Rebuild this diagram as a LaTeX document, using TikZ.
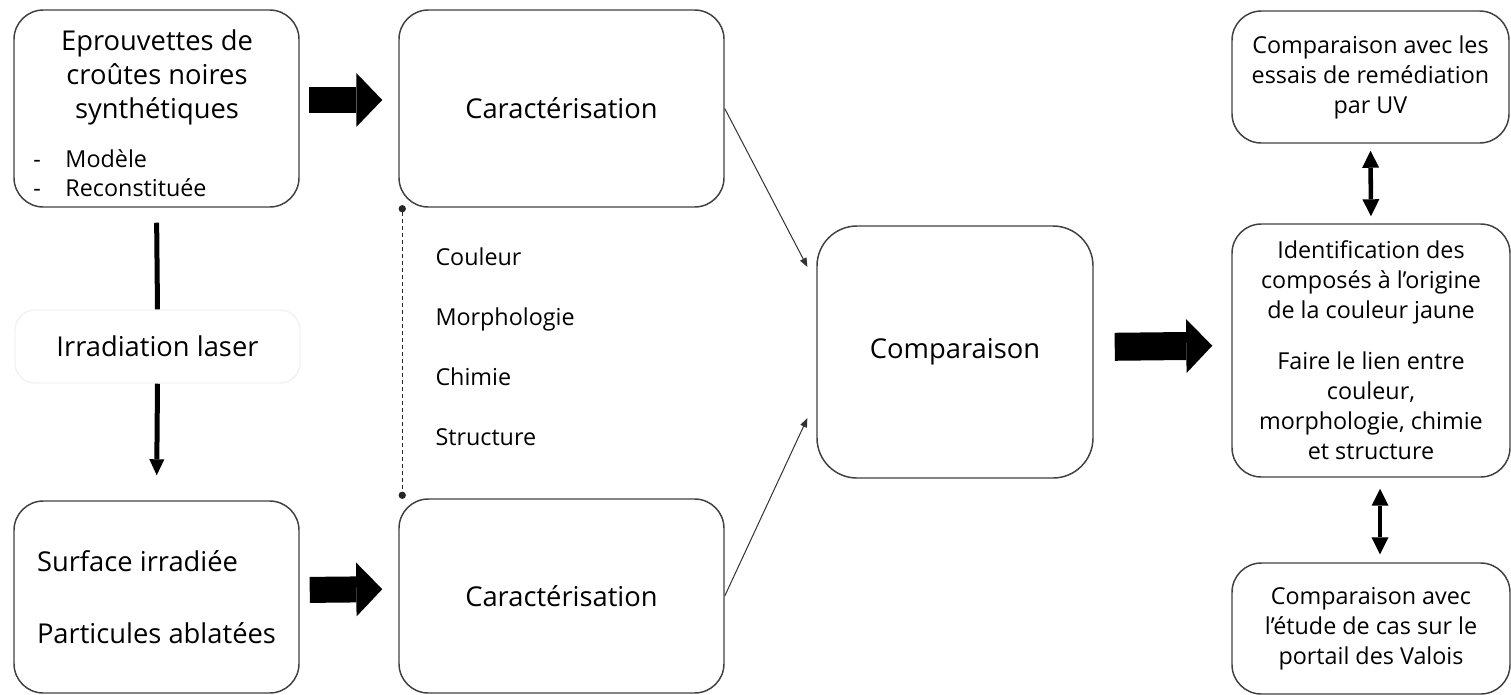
\documentclass[tikz,border=0pt]{standalone}
\usepackage{fontspec}
\setmainfont{Open Sans}
\usetikzlibrary{arrows.meta}

\tikzset{every picture/.style={line width=0.75pt}}
\tikzset{
  box/.style={draw=black!75, line width=1.1pt, rounded corners=22pt, align=center, inner sep=0pt},
  bigfont/.style={font=\fontsize{20.5}{25.5}\selectfont},
  smallfont/.style={font=\fontsize{17.5}{22.5}\selectfont},
  proptext/.style={smallfont, anchor=west, inner sep=0pt, text height=13pt, text depth=4pt},
  blockarrow/.style={line width=19.5pt, -{Triangle[length=19.5pt,width=40.5pt,line width=0pt]}},
  thinarrow/.style={draw=black!80, line width=0.75pt, -{Triangle[length=6.75pt,width=5.25pt]}},
  dblarrow/.style={line width=3.4pt, {Triangle[length=12.75pt,width=12.75pt,line width=0pt]}-{Triangle[length=12.75pt,width=12.75pt,line width=0pt]}}
}

\begin{document}
\begin{tikzpicture}[x=0.75pt,y=0.75pt,yscale=-1,xscale=1]
\useasboundingbox (0,0) rectangle (1511,694);

%Shape: Rounded Rectangle [eprouvettes]
\node [box, minimum width=213.75pt, minimum height=147.75pt] (eprouv) at (156.5,108.5) {};
% Text Node
\node [bigfont, align=center] (eprouvtitle) at (157,77) {Eprouvettes de\\croûtes noires\\synthétiques};
% Text Node
\node [font=\fontsize{17.5}{21.75}\selectfont, align=left, anchor=west, inner sep=0pt] (eprouvlist) at (33,173) {\makebox[24pt][l]{-}Modèle\\\makebox[24pt][l]{-}Reconstituée};

%Shape: Rounded Rectangle [irradiation]
\node [box, draw=black!5, rounded corners=15pt, minimum width=213.75pt, minimum height=54.75pt, bigfont] (irrad) at (157.5,346.5) {Irradiation laser};

%Shape: Rounded Rectangle [surface]
\node [box, minimum width=213.75pt, minimum height=144pt, align=left, font=\fontsize{20.5}{54}\selectfont] (surface) at (156.5,597) {Surface irradiée\\Particules ablatées};

%Shape: Rounded Rectangle [caracterisation]
\node [box, minimum width=243.75pt, minimum height=147.75pt, bigfont] (caracA) at (561.5,108.5) {Caractérisation};
%Shape: Rounded Rectangle [caracterisation]
\node [box, minimum width=243.75pt, minimum height=145.5pt, bigfont] (caracB) at (561.5,596) {Caractérisation};

% Text Node
\node [proptext] (couleur) at (435,259) {Couleur};
% Text Node
\node [proptext] (morpho) at (435,319) {Morphologie};
% Text Node
\node [proptext] (chimie) at (435,379) {Chimie};
% Text Node
\node [proptext] (structure) at (435,439) {Structure};

%Shape: Rounded Rectangle [comparaison]
\node [box, rounded corners=30pt, minimum width=207pt, minimum height=189pt, bigfont] (compar) at (955,352) {Comparaison};

%Shape: Rounded Rectangle [right column]
\node [box, minimum width=207.75pt, minimum height=99pt, smallfont] (remed) at (1370.5,77) {Comparaison avec les\\essais de remédiation\\par UV};
\node [box, minimum width=208.5pt, minimum height=189.75pt, smallfont] (ident) at (1371,350.5) {Identification des\\composés à l’origine\\de la couleur jaune\\[15.75pt]Faire le lien entre\\couleur,\\morphologie, chimie\\et structure};
\node [box, minimum width=208.5pt, minimum height=98.25pt, smallfont] (valois) at (1371,628.5) {Comparaison avec\\l’étude de cas sur le\\portail des Valois};

%Block Arrows
\draw [blockarrow, shorten <=6.75pt, shorten >=12pt] ([yshift=-6.4pt]eprouv.east) -- ([yshift=-6.4pt]caracA.west);
\draw [blockarrow, shorten <=7.5pt, shorten >=12pt] ([yshift=-5.25pt]surface.east) -- ([yshift=-5.25pt]caracB.west);
\draw [blockarrow, line width=21pt, shorten <=15.75pt, shorten >=14.25pt] ([yshift=-3.75pt]compar.east) -- ([yshift=-3.75pt]ident.west);

%Straight Lines [laser]
\draw [line width=3.75pt, shorten <=11.25pt] (eprouv.south) -- (irrad.north);
\draw [line width=3.75pt, shorten >=18.75pt, -{Triangle[length=12pt,width=11.25pt,line width=0pt]}] (irrad.south) -- (surface.north);

%Straight Lines [to comparaison]
\draw [thinarrow, shorten >=14.4pt] (caracA.east) -- ([yshift=-51pt]compar.west);
\draw [thinarrow, shorten >=15.8pt] (caracB.east) -- ([yshift=35.25pt]compar.west);

%Straight Lines [double arrows]
\draw [dblarrow, shorten <=5.25pt, shorten >=5.25pt] (remed.south) -- (ident.north);
\draw [dblarrow, shorten <=8.25pt, shorten >=6pt] ([xshift=6.75pt]ident.south) -- ([xshift=6.75pt]valois.north);

%Dotted Line
\draw [black!85, line width=0.9pt, dash pattern=on 3pt off 2.25pt, {Circle[length=5.5pt,line width=0pt]}-{Circle[length=5.5pt,line width=0pt]}, shorten <=-2pt, shorten >=-2pt] ([xshift=3pt]caracA.south west) -- ([xshift=3pt,yshift=-1.5pt]caracB.north west);

\end{tikzpicture}
\end{document}
